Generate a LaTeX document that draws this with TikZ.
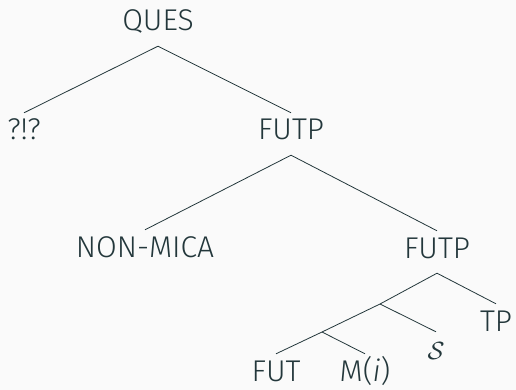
\documentclass[tikz,border=0pt]{standalone}
\usepackage{fontspec}
\setmainfont{Fira Sans}[UprightFont=* Light,ItalicFont=* Light Italic]
\definecolor{slate}{HTML}{23373B}
\definecolor{paper}{HTML}{FAFAFA}
\begin{document}
\begin{tikzpicture}[x=1pt,y=-1pt,
		lab/.style={anchor=base,inner xsep=0pt,inner ysep=8pt,text height=19pt,text depth=7pt,text=slate,font=\fontsize{30}{36}\selectfont},
		branch/.style={draw=slate,line width=0.8pt}]
			\fill[paper] (0,0) rectangle (516,390);
			\useasboundingbox (0,0) rectangle (516,390);
			\node[lab] at (158,31) (ques) {QUES};
			\node[lab] at (24,140) (what) {?!?};
			\node[lab] at (291,140) (futp1) {FUTP};
			\node[lab] at (145,257) (nonmica) {NON-MICA};
			\node[lab] at (437,258) (futp2) {FUTP};
			\node[lab] at (496,331) (tp) {TP};
			\coordinate (x1) at (380,304);
			\coordinate (x2) at (322,332);
			\node[lab] at (436,359) (s) {$\mathcal{S}$};
			\node[lab] at (276,381) (fut) {FUT};
			\node[lab] at (365,381) (mi) {M(\textit{i})};
			\draw[branch] (what.north)--(ques.south)--(futp1.north);
			\draw[branch] (nonmica.north)--(futp1.south)--(futp2.north);
			\draw[branch] (tp.north)--(futp2.south)--(x1)--(x2)--(fut.north);
			\draw[branch] (x1)--(s.north);
			\draw[branch] (x2)--(mi.north);
		\end{tikzpicture}
\end{document}
